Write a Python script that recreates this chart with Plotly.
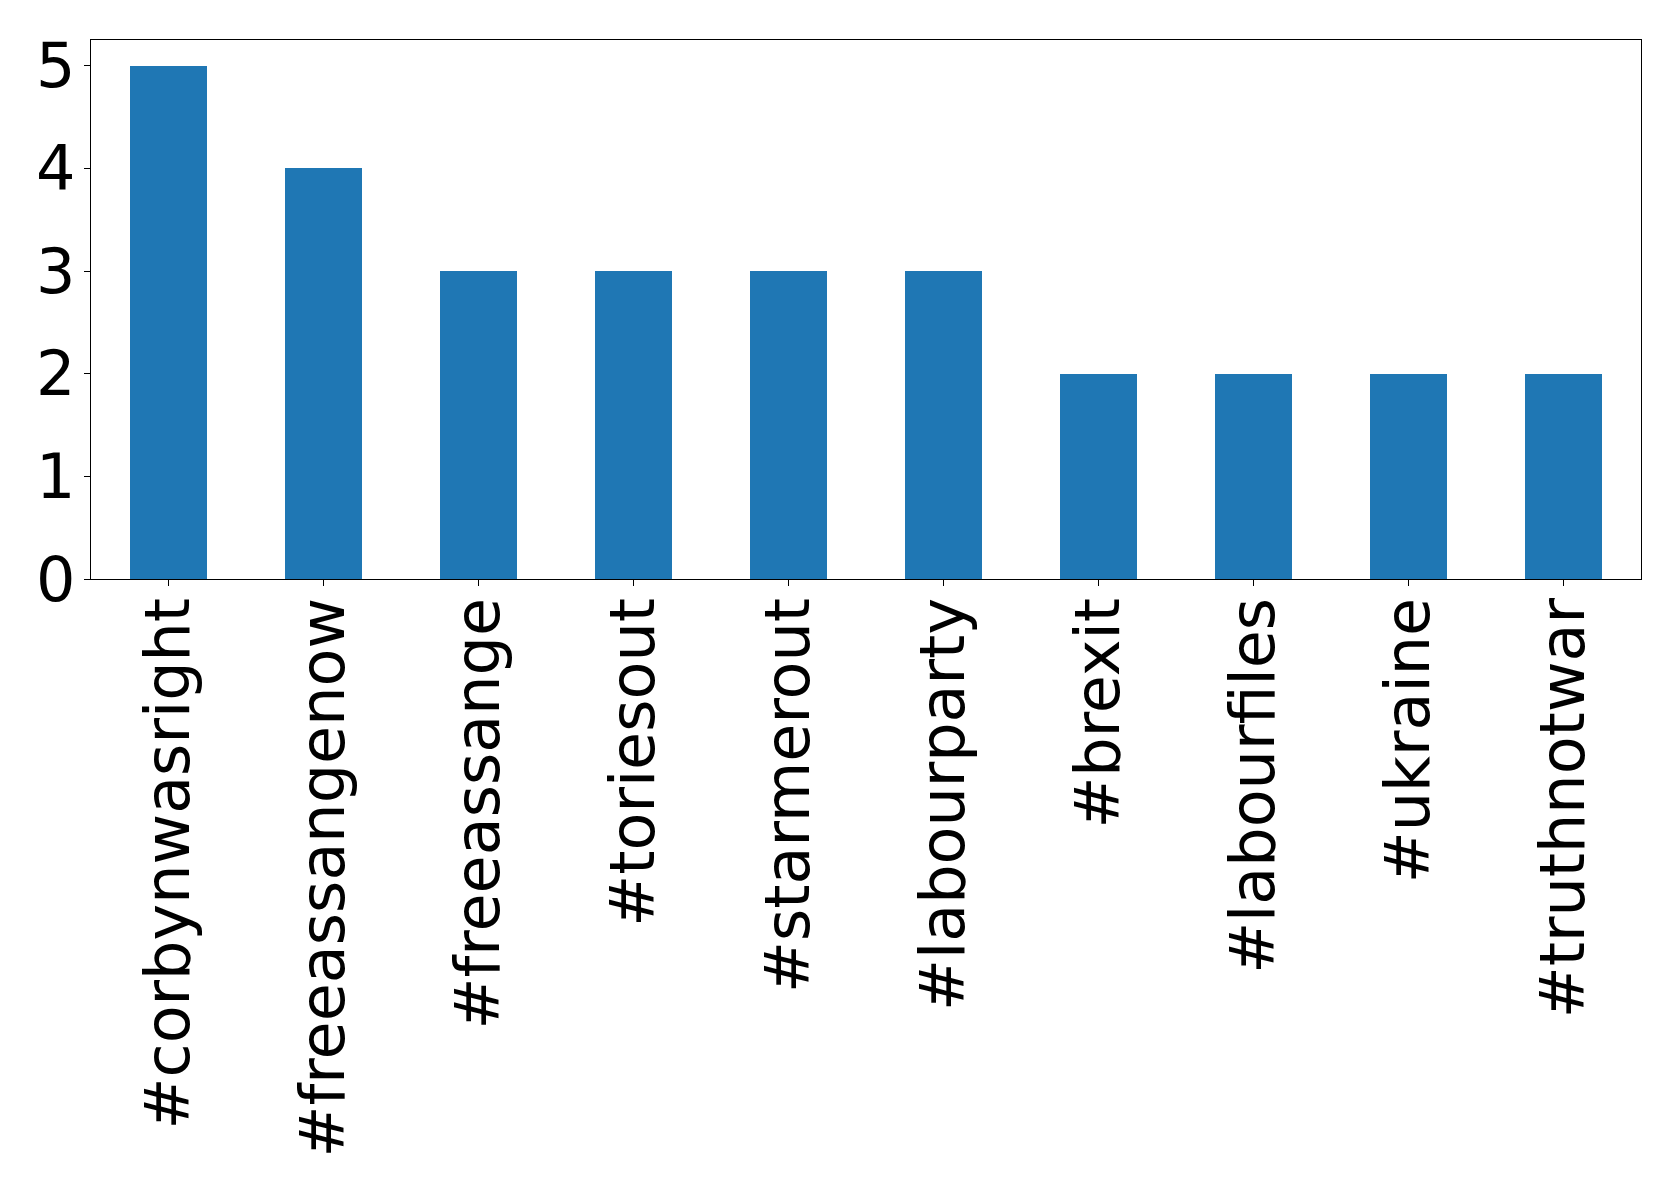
import plotly.graph_objects as go

categories = ["#corbynwasright", "#freeassangenow", "#freeassange", "#toriesout",
              "#starmerout", "#labourparty", "#brexit", "#labourfiles", "#ukraine",
              "#truthnotwar"]
counts = [5, 4, 3, 3, 3, 3, 2, 2, 2, 2]
y_ticks = [0, 1, 2, 3, 4, 5]

fig = go.Figure(go.Bar(
    x=list(range(len(categories))), y=counts,
    width=0.5, marker=dict(color="#1f77b4", line=dict(width=0)),
))

# page body has an 8px default margin, so the figure is offset by 8px
fig.update_layout(
    width=1671, height=1184,
    margin=dict(l=83, r=38, t=32, b=613, autoexpand=False),
    paper_bgcolor="white", plot_bgcolor="white",
    font=dict(family="DejaVu Sans", size=62, color="black"),
    showlegend=False,
    bargap=0,
)
fig.update_xaxes(
    range=[-0.5, 9.5], tickmode="array",
    tickvals=list(range(len(categories))), ticktext=categories,
    tickangle=-90, ticks="outside", ticklen=6, tickwidth=1.2, tickcolor="black",
    showline=True, linecolor="black", linewidth=1.2, mirror=True,
    showgrid=False, zeroline=False, automargin=False,
    ticklabelstandoff=-13,
)
fig.update_yaxes(
    range=[0, 5.25], tickmode="array", tickvals=y_ticks,
    ticktext=[str(v) for v in y_ticks],
    ticks="outside", ticklen=6, tickwidth=1.2, tickcolor="black",
    showline=True, linecolor="black", linewidth=1.2, mirror=True,
    showgrid=False, zeroline=False, automargin=False,
    ticklabelstandoff=-4,
)

fig.write_html("out.html")
